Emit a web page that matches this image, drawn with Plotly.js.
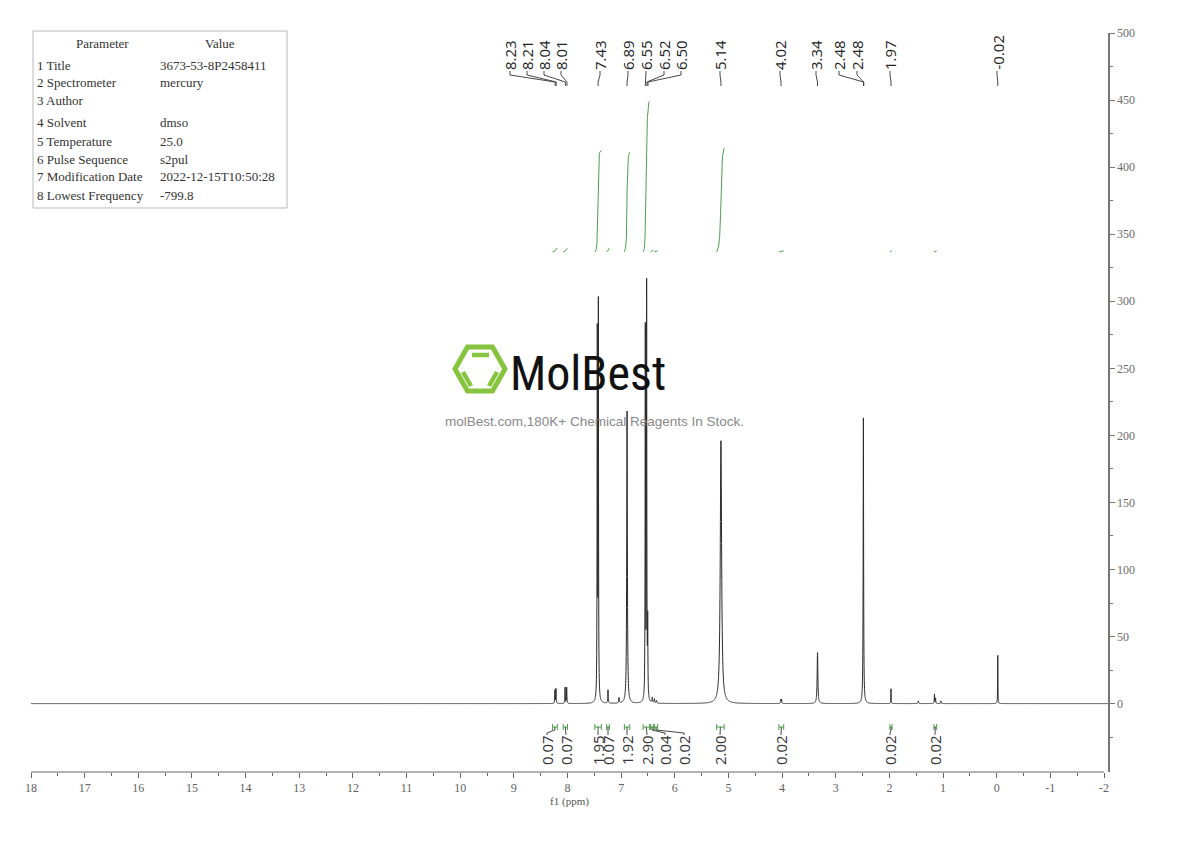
<!DOCTYPE html>
<html><head><meta charset="utf-8">
<script src="https://cdn.plot.ly/plotly-3.0.1.min.js"></script>
<style>html,body{margin:0;padding:0;background:#fff;} #chart{width:1190px;height:841px;}</style>
</head><body><div id="chart"></div>
<script>
// ---------------- data ----------------
const paramNames  = ['1 Title','2 Spectrometer','3 Author','4 Solvent','5 Temperature','6 Pulse Sequence','7 Modification Date','8 Lowest Frequency'];
const paramValues = ['3673-53-8P2458411','mercury','','dmso','25.0','s2pul','2022-12-15T10:50:28','-799.8'];

// peaks (ppm, intensity, half-width in ppm)
const peakPpm    = [8.235, 8.215, 8.045, 8.015, 7.445, 7.425, 7.245, 7.04, 6.89, 6.55, 6.525, 6.505, 6.42, 6.38, 6.34, 5.14, 4.025, 4.01, 3.34, 2.485, 1.97, 1.46, 1.16, 1.14, 1.04, -0.02];
const peakHeight = [10,    11,    12,    12,    272,   293,   10,    4,    218,  276,  308,   55,    4,    3,    2,    196,  3,     3,    38,   213,   11,   2,    7,    4,    2,    36];
const peakWidth  = [0.004, 0.004, 0.004, 0.004, 0.004, 0.004, 0.005, 0.006,0.007,0.004,0.004, 0.004, 0.006,0.006,0.006,0.015,0.005, 0.005,0.008,0.005, 0.003,0.006,0.004,0.004,0.005,0.003];

// peak picking labels
const shiftLabels = [8.23, 8.21, 8.04, 8.01, 7.43, 6.89, 6.55, 6.52, 6.50, 5.14, 4.02, 3.34, 2.48, 2.48, 1.97, -0.02];

// integration regions
const intStart = [8.28, 8.08, 7.49, 7.27, 6.94, 6.59, 6.45, 6.38, 5.22, 4.06, 1.99, 1.17];
const intEnd   = [8.19, 8.00, 7.37, 7.22, 6.84, 6.47, 6.40, 6.32, 5.08, 3.97, 1.95, 1.12];
const intValue = [0.07, 0.07, 1.95, 0.07, 1.92, 2.90, 0.04, 0.02, 2.00, 0.02, 0.02, 0.02];

// axis ticks
const xTickVals = [18,17,16,15,14,13,12,11,10,9,8,7,6,5,4,3,2,1,0,-1,-2];
const yTickVals = [0,50,100,150,200,250,300,350,400,450,500];

// ---------------- layout geometry ----------------
const W = 1190, H = 841;
const mL = 31, mR = 82, mT = 33, mB = 69;
const plotW = W - mL - mR, plotH = H - mT - mB;
const xRange = [18, 18 - plotW / 53.65];
const yRange = [-51, 500];
const pxToPpm = px => xRange[0] + (px - mL) * (xRange[1] - xRange[0]) / plotW;
const pyToVal = py => yRange[1] - (py - mT) * (yRange[1] - yRange[0]) / plotH;
const pxToPaper = px => (px - mL) / plotW;
const pyToPaper = py => (H - mB - py) / plotH;

// label slots (pixel x) for the peak labels and integral labels
const peakLabelSlots = [510, 527, 544, 561, 600, 628, 646, 664, 681, 720, 780, 816, 839, 857, 890, 997];
const intLabelSlots  = [547, 566, 598, 608, 627, 647, 665, 684, 720, 781, 890, 935];

// ---------------- spectrum ----------------
const step = 0.002;
let xs = [];
for (let v = xRange[0]; v >= xRange[1]; v -= step) xs.push(+v.toFixed(4));
peakPpm.forEach(p => xs.push(p));
xs = Array.from(new Set(xs)).sort((a, b) => b - a);
const spec = xs.map(x => {
  let s = 0;
  for (let i = 0; i < peakPpm.length; i++) {
    const d = (x - peakPpm[i]) / peakWidth[i];
    s += peakHeight[i] / (1 + d * d);
  }
  return s;
});

// ---------------- integral curves ----------------
const intBase = pyToVal(252);
const intScale = 38.75;
const ix = [], iy = [];
for (let r = 0; r < intStart.length; r++) {
  const idx = [];
  xs.forEach((x, i) => { if (x <= intStart[r] && x >= intEnd[r]) idx.push(i); });
  let tot = 0; idx.forEach(i => tot += spec[i]);
  let c = 0;
  idx.forEach(i => { c += spec[i]; ix.push(xs[i]); iy.push(intBase + c / tot * intValue[r] * intScale); });
  ix.push(null); iy.push(null);
}

// ---------------- leaders & brackets ----------------
const topLx = [], topLy = [];
shiftLabels.forEach((s, k) => {
  const lx = pxToPpm(peakLabelSlots[k]);
  topLx.push(lx, lx, s, s, null);
  topLy.push(pyToVal(71), pyToVal(75), pyToVal(82), pyToVal(86), null);
});
const brX = [], brY = [], botLx = [], botLy = [];
intStart.forEach((a, r) => {
  const b = intEnd[r], c = (a + b) / 2;
  brX.push(a, a, null, a, b, null, b, b, null);
  brY.push(pyToVal(724), pyToVal(730), null, pyToVal(727), pyToVal(727), null, pyToVal(724), pyToVal(730), null);
  const lx = pxToPpm(intLabelSlots[r]);
  botLx.push(lx, lx, c, c, null);
  botLy.push(pyToVal(735), pyToVal(733), pyToVal(730), pyToVal(727), null);
});

const traces = [
  {x: xs, y: spec, type: 'scatter', mode: 'lines', line: {color: '#2b2b2b', width: 1, simplify: false}, hoverinfo: 'skip'},
  {x: ix, y: iy, type: 'scatter', mode: 'lines', connectgaps: false, line: {color: '#4c9f4c', width: 1}, hoverinfo: 'skip'},
  {x: topLx, y: topLy, type: 'scatter', mode: 'lines', connectgaps: false, line: {color: '#333', width: 0.9}, hoverinfo: 'skip'},
  {x: brX, y: brY, type: 'scatter', mode: 'lines', connectgaps: false, line: {color: '#4c9f4c', width: 1}, hoverinfo: 'skip'},
  {x: botLx, y: botLy, type: 'scatter', mode: 'lines', connectgaps: false, line: {color: '#333', width: 0.9}, hoverinfo: 'skip'}
];

// ---------------- annotations ----------------
const ann = [];
shiftLabels.forEach((s, k) => {
  ann.push({x: pxToPpm(peakLabelSlots[k]), y: pyToVal(70), xref: 'x', yref: 'y', text: s.toFixed(2),
    textangle: -90, xanchor: 'center', yanchor: 'bottom', showarrow: false, borderpad: 0, borderwidth: 0,
    font: {family: 'Open Sans, Noto Sans, sans-serif', size: 15, color: '#222'}});
});
intValue.forEach((v, r) => {
  ann.push({x: pxToPpm(intLabelSlots[r]), y: pyToVal(735), xref: 'x', yref: 'y', text: v.toFixed(2),
    textangle: -90, xanchor: 'center', yanchor: 'top', showarrow: false, borderpad: 0, borderwidth: 0,
    font: {family: 'Open Sans, Noto Sans, sans-serif', size: 15, color: '#333'}});
});
// parameter table
const tblFont = {family: 'Liberation Serif, DejaVu Serif, serif', size: 13, color: '#333'};
ann.push({x: pxToPaper(102), y: pyToPaper(43), xref: 'paper', yref: 'paper', text: 'Parameter', xanchor: 'center', yanchor: 'middle', showarrow: false, borderpad: 0, borderwidth: 0, font: tblFont});
ann.push({x: pxToPaper(220), y: pyToPaper(43), xref: 'paper', yref: 'paper', text: 'Value', xanchor: 'center', yanchor: 'middle', showarrow: false, borderpad: 0, borderwidth: 0, font: tblFont});
const rowY = [65, 83, 101, 123, 141, 159, 177, 195];
paramNames.forEach((n, i) => {
  ann.push({x: pxToPaper(37), y: pyToPaper(rowY[i]), xref: 'paper', yref: 'paper', text: n, xanchor: 'left', yanchor: 'middle', showarrow: false, borderpad: 0, borderwidth: 0, font: tblFont});
  if (paramValues[i]) ann.push({x: pxToPaper(160), y: pyToPaper(rowY[i]), xref: 'paper', yref: 'paper', text: paramValues[i], xanchor: 'left', yanchor: 'middle', showarrow: false, borderpad: 0, borderwidth: 0, font: tblFont});
});
// watermark
ann.push({x: pxToPaper(510), y: pyToPaper(373), xref: 'paper', yref: 'paper', text: 'MolBest', xanchor: 'left', yanchor: 'middle', showarrow: false, borderpad: 0, borderwidth: 0,
  font: {family: 'Liberation Sans Narrow, Roboto Condensed, DejaVu Sans Condensed, sans-serif', size: 48, color: '#111'}});
ann.push({x: pxToPaper(594), y: pyToPaper(421), xref: 'paper', yref: 'paper', text: 'molBest.com,180K+ Chemical Reagents In Stock.', xanchor: 'center', yanchor: 'middle', showarrow: false, borderpad: 0, borderwidth: 0,
  font: {family: 'Liberation Sans, Arial, sans-serif', size: 13.5, color: '#888'}});

// ---------------- shapes ----------------
const P = (px, py) => pxToPaper(px).toFixed(5) + ',' + pyToPaper(py).toFixed(5);
const green = '#86c440';
const shapes = [
  {type: 'line', xref: 'x', yref: 'paper', x0: 18, x1: -2, y0: 0, y1: 0, line: {color: '#666', width: 1.2}},
  {type: 'rect', xref: 'paper', yref: 'paper', x0: pxToPaper(33), x1: pxToPaper(287), y0: pyToPaper(208), y1: pyToPaper(31), line: {color: '#b8b8b8', width: 1}, fillcolor: 'rgba(255,255,255,0)'},
  {type: 'path', xref: 'paper', yref: 'paper', path: 'M' + P(455, 369) + 'L' + P(467.5, 347) + 'L' + P(492.5, 347) + 'L' + P(505, 369) + 'L' + P(492.5, 391) + 'L' + P(467.5, 391) + 'Z', line: {color: green, width: 5}, fillcolor: 'rgba(0,0,0,0)'},
  {type: 'path', xref: 'paper', yref: 'paper', path: 'M' + P(472, 355) + 'L' + P(489, 355), line: {color: green, width: 4.5}},
  {type: 'path', xref: 'paper', yref: 'paper', path: 'M' + P(463, 372) + 'L' + P(471, 386), line: {color: green, width: 4.5}},
  {type: 'path', xref: 'paper', yref: 'paper', path: 'M' + P(497, 372) + 'L' + P(489, 386), line: {color: green, width: 4.5}}
];

const layout = {
  width: W, height: H,
  margin: {l: mL, r: mR, t: mT, b: mB, pad: 0},
  paper_bgcolor: '#fff', plot_bgcolor: '#fff',
  showlegend: false, hovermode: false,
  xaxis: {range: xRange, showgrid: false, zeroline: false, showline: false,
    tickmode: 'array', tickvals: xTickVals, ticktext: xTickVals.map(String),
    ticks: 'outside', ticklen: 5, tickcolor: '#666', tickwidth: 1,
    minor: {tickmode: 'array', tickvals: xTickVals.slice(0, -1).map(v => v - 0.5), ticks: 'outside', ticklen: 3, tickcolor: '#666'},
    tickfont: {family: 'Liberation Serif, DejaVu Serif, serif', size: 12, color: '#5f5f5f'},
    title: {text: 'f1 (ppm)', font: {family: 'Liberation Serif, DejaVu Serif, serif', size: 11, color: '#555'}, standoff: 2}},
  yaxis: {range: yRange, side: 'right', showgrid: false, zeroline: false, showline: true, linecolor: '#777', linewidth: 1.5,
    tickmode: 'array', tickvals: yTickVals, ticktext: yTickVals.map(String),
    ticks: 'outside', ticklen: 5, tickcolor: '#777', tickwidth: 1,
    minor: {tickmode: 'array', tickvals: yTickVals.map(v => v - 25), ticks: 'outside', ticklen: 3, tickcolor: '#777'},
    tickfont: {family: 'Liberation Serif, DejaVu Serif, serif', size: 12, color: '#6a6a6a'}},
  annotations: ann,
  shapes: shapes
};
Plotly.newPlot('chart', traces, layout, {staticPlot: true, displayModeBar: false});
</script>
</body></html>
